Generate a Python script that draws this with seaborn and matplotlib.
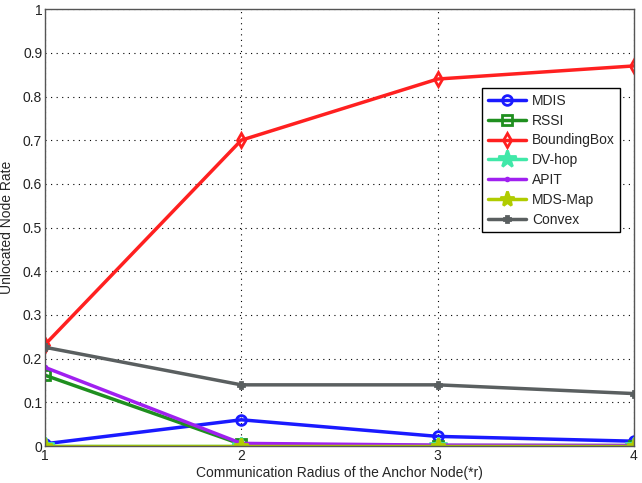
import matplotlib
matplotlib.use("Agg")
import matplotlib.pyplot as plt
import seaborn as sns
import pandas as pd

radius = [1, 2, 3, 4]
mdis = [0.005, 0.06, 0.022, 0.011]
rssi = [0.162, 0.004, 0.001, 0.001]
bbox = [0.232, 0.70, 0.84, 0.87]
dvhop = [0.0, 0.0, 0.0, 0.0]
apit = [0.18, 0.006, 0.002, 0.001]
mdsmap = [0.0, 0.0, 0.0, 0.0]
convex = [0.226, 0.14, 0.14, 0.12]

names = ["MDIS", "RSSI", "BoundingBox", "DV-hop", "APIT", "MDS-Map", "Convex"]
series = [mdis, rssi, bbox, dvhop, apit, mdsmap, convex]
colors = ["#1a1aff", "#1f8f1f", "#ff2020", "#40e8a8", "#a020f0", "#b0cc00", "#5a5f60"]
markers = ["o", "s", "d", "*", ".", "*", "P"]
msizes = [7, 7, 7, 13, 4, 11, 5]
filled = [False, False, False, True, True, True, True]

sns.set_style("white")
plt.rcParams["font.family"] = ["Liberation Sans", "DejaVu Sans"]

fig = plt.figure(figsize=(6.42, 4.83), dpi=100)
ax = fig.add_axes([0.070, 0.0766, 0.9175, 0.9045])

for name, vals, c, m, ms, f in zip(names, series, colors, markers, msizes, filled):
    df = pd.DataFrame({"r": radius, "v": vals})
    sns.lineplot(data=df, x="r", y="v", ax=ax, color=c, marker=m, markersize=ms,
                 markerfacecolor=(c if f else "none"), markeredgecolor=c,
                 markeredgewidth=2, linewidth=2.5, label=name)

ax.set_xlim(1, 4)
ax.set_ylim(0, 1)
ax.set_xticks(radius)
ax.set_xticklabels(["1", "2", "3", "4"])
yt = [i / 10 for i in range(11)]
ax.set_yticks(yt)
ax.set_yticklabels(["0", "0.1", "0.2", "0.3", "0.4", "0.5", "0.6", "0.7", "0.8", "0.9", "1"])
ax.tick_params(direction="in", length=4, labelsize=10, colors="#222222", pad=2)
ax.grid(True, color="black", linestyle=(0, (1, 4)), linewidth=0.8)
for s in ax.spines.values():
    s.set_color("#555555")
    s.set_linewidth(1)
ax.set_xlabel("Communication Radius of the Anchor Node(*r)", fontsize=10, labelpad=2)
ax.set_ylabel("Unlocated Node Rate", fontsize=10, labelpad=6)

leg = ax.legend(loc="upper left", bbox_to_anchor=(0.742, 0.819), borderaxespad=0,
                fontsize=10, frameon=True, fancybox=False, edgecolor="black",
                framealpha=1, handlelength=2.8, labelspacing=0.42, borderpad=0.4,
                handletextpad=0.4)
leg.get_frame().set_linewidth(1)

fig.savefig("out.png", dpi=100)
